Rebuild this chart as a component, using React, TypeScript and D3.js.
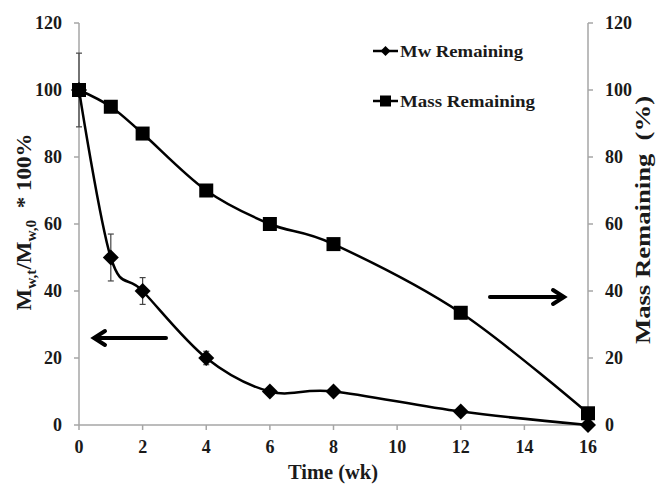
import React from "react";
import * as d3 from "d3";

const weeks = [0, 1, 2, 4, 6, 8, 12, 16];
const mwRemaining = [100, 50, 40, 20, 10, 10, 4, 0];
const mwError = [11, 7, 4, 2, 0, 0, 0, 0];
const massRemaining = [100, 95, 87, 70, 60, 54, 33.5, 3.5];
const xTicks = [0, 2, 4, 6, 8, 10, 12, 14, 16];
const yTicks = [0, 20, 40, 60, 80, 100, 120];

const W = 661, H = 484;
const FONT = "'Liberation Serif', 'Times New Roman', serif";
const TXT = "#1a1a1a";

export default function App() {
  const x = d3.scaleLinear().domain([0, 16]).range([79, 588]);
  const y = d3.scaleLinear().domain([0, 120]).range([425, 23]);
  const line = d3
    .line<[number, number]>()
    .x((d) => x(d[0]))
    .y((d) => y(d[1]))
    .curve(d3.curveCatmullRom.alpha(0));
  const mwPts: [number, number][] = weeks.map((w, i) => [w, mwRemaining[i]]);
  const massPts: [number, number][] = weeks.map((w, i) => [w, massRemaining[i]]);
  const axisColor = "#a6a6a6";
  const diamond = (cx: number, cy: number, r: number) =>
    `M${cx},${cy - r}L${cx + r},${cy}L${cx},${cy + r}L${cx - r},${cy}Z`;

  return (
    <svg width={W} height={H} style={{ position: "absolute", left: 0, top: 0, background: "#fff" }}>
      <rect width={W} height={H} fill="#fff" />
      {/* axes */}
      <line x1={x(0)} x2={x(0)} y1={y(0)} y2={y(120)} stroke={axisColor} strokeWidth={1.5} />
      <line x1={x(16)} x2={x(16)} y1={y(0)} y2={y(120)} stroke={axisColor} strokeWidth={1.5} />
      <line x1={x(0)} x2={x(16)} y1={y(0)} y2={y(0)} stroke={axisColor} strokeWidth={1.5} />
      {yTicks.map((t) => (
        <g key={"y" + t}>
          <line x1={x(0) - 5} x2={x(0)} y1={y(t)} y2={y(t)} stroke={axisColor} strokeWidth={1.5} />
          <line x1={x(16)} x2={x(16) + 5} y1={y(t)} y2={y(t)} stroke={axisColor} strokeWidth={1.5} />
          <text x={62} y={y(t)} dy="0.33em" textAnchor="end" fontFamily={FONT} fontWeight="bold" fontSize={18} fill={TXT}>
            {t}
          </text>
          <text x={605} y={y(t)} dy="0.33em" textAnchor="start" fontFamily={FONT} fontWeight="bold" fontSize={18} fill={TXT}>
            {t}
          </text>
        </g>
      ))}
      {xTicks.map((t) => (
        <g key={"x" + t}>
          <line x1={x(t)} x2={x(t)} y1={y(0)} y2={y(0) + 5} stroke={axisColor} strokeWidth={1.5} />
          <text x={x(t)} y={453} textAnchor="middle" fontFamily={FONT} fontWeight="bold" fontSize={18} fill={TXT}>
            {t}
          </text>
        </g>
      ))}
      <text x={333} y={479} textAnchor="middle" fontFamily={FONT} fontWeight="bold" fontSize={21} fill={TXT} textLength={90} lengthAdjust="spacingAndGlyphs">
        Time (wk)
      </text>
      {/* left axis title */}
      <text transform={`translate(31,222) rotate(-90)`} textAnchor="middle" fontFamily={FONT} fontWeight="bold" fontSize={21} fill={TXT} textLength={177} lengthAdjust="spacingAndGlyphs" style={{ whiteSpace: "pre" }}>
        <tspan>M</tspan>
        <tspan fontSize={14} dy={5}>w,t</tspan>
        <tspan dy={-5}>/M</tspan>
        <tspan fontSize={14} dy={5}>w,0</tspan>
        <tspan dy={-5}>{"  * 100%"}</tspan>
      </text>
      <text transform={`translate(650,220) rotate(-90)`} textAnchor="middle" fontFamily={FONT} fontWeight="bold" fontSize={21} fill={TXT} textLength={248} lengthAdjust="spacingAndGlyphs" style={{ whiteSpace: "pre" }}>
        {"Mass Remaining  (%)"}
      </text>
      {/* error bars */}
      {weeks.map((w, i) =>
        mwError[i] > 0 ? (
          <g key={"e" + i} stroke="#444" strokeWidth={1.2}>
            <line x1={x(w)} x2={x(w)} y1={y(mwRemaining[i] + mwError[i])} y2={y(mwRemaining[i] - mwError[i])} />
            <line x1={x(w) - 3} x2={x(w) + 3} y1={y(mwRemaining[i] + mwError[i])} y2={y(mwRemaining[i] + mwError[i])} />
            <line x1={x(w) - 3} x2={x(w) + 3} y1={y(mwRemaining[i] - mwError[i])} y2={y(mwRemaining[i] - mwError[i])} />
          </g>
        ) : null
      )}
      {/* lines */}
      <path d={line(massPts) || ""} fill="none" stroke="#000" strokeWidth={2.5} />
      <path d={line(mwPts) || ""} fill="none" stroke="#000" strokeWidth={2.5} />
      {massPts.map((p, i) => (
        <rect key={"s" + i} x={x(p[0]) - 7} y={y(p[1]) - 7} width={14} height={14} fill="#000" />
      ))}
      {mwPts.map((p, i) => (
        <path key={"d" + i} d={diamond(x(p[0]), y(p[1]), 8)} fill="#000" />
      ))}
      {/* legend */}
      <g>
        <line x1={373} x2={398} y1={51} y2={51} stroke="#000" strokeWidth={2.5} />
        <path d={diamond(385.5, 51, 5)} fill="#000" />
        <text x={400} y={51} dy="0.33em" fontFamily={FONT} fontWeight="bold" fontSize={17} fill={TXT} textLength={123} lengthAdjust="spacingAndGlyphs">
          Mw Remaining
        </text>
        <line x1={373} x2={398} y1={101} y2={101} stroke="#000" strokeWidth={2.5} />
        <rect x={380} y={95.5} width={11} height={11} fill="#000" />
        <text x={400} y={101} dy="0.33em" fontFamily={FONT} fontWeight="bold" fontSize={17} fill={TXT} textLength={135} lengthAdjust="spacingAndGlyphs">
          Mass Remaining
        </text>
      </g>
      {/* arrows */}
      <g stroke="#000" strokeWidth={4} fill="none" strokeLinecap="round">
        <line x1={95} x2={166} y1={338} y2={338} />
        <polyline points="105,331 94,338 105,345" strokeLinejoin="miter" />
        <line x1={490} x2={563} y1={297} y2={297} />
        <polyline points="553,290 564,297 553,304" strokeLinejoin="miter" />
      </g>
    </svg>
  );
}
